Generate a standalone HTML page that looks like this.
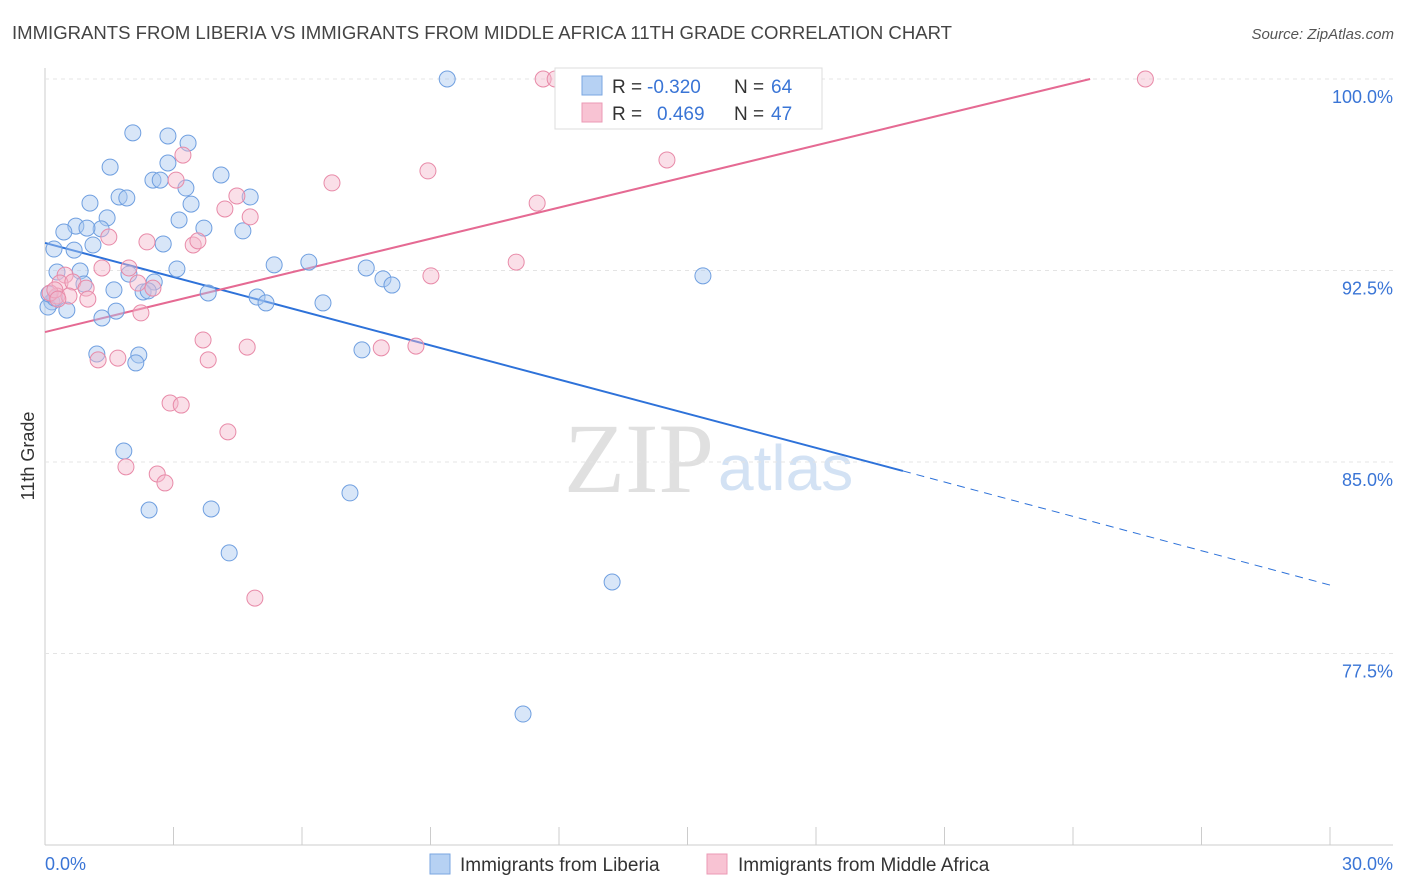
<!DOCTYPE html>
<html><head><meta charset="utf-8"><style>
body{margin:0;background:#fff;font-family:"Liberation Sans",sans-serif;}
svg{display:block}
</style></head><body>
<svg id="chart" width="1406" height="892">
<text x="12" y="39" font-size="18" fill="#444" textLength="940" lengthAdjust="spacingAndGlyphs">IMMIGRANTS FROM LIBERIA VS IMMIGRANTS FROM MIDDLE AFRICA 11TH GRADE CORRELATION CHART</text>
<text x="1394" y="39" font-size="15" fill="#555" font-style="italic" text-anchor="end">Source: ZipAtlas.com</text>
<text x="714" y="492" font-size="100" fill="#e0e0e0" font-family="Liberation Serif,serif" text-anchor="end">ZIP</text>
<text x="718" y="490" font-size="64" fill="#d3e2f4">atlas</text>
<text transform="translate(34,456) rotate(-90)" font-size="18" fill="#333" text-anchor="middle">11th Grade</text>
<g id="grid"></g><g id="lines"></g><g id="pts"></g>
<g>
<rect x="555" y="68" width="267" height="61" fill="#fff" stroke="#ddd"/>
<rect x="582" y="76" width="20" height="19" fill="#b6d1f3" stroke="#7aa6e0"/>
<rect x="582" y="103" width="20" height="19" fill="#f8c3d3" stroke="#eb9ab4"/>
<text x="612" y="93" font-size="19" fill="#333">R =</text>
<text x="647" y="93" font-size="19" fill="#3a75d6">-0.320</text>
<text x="734" y="93" font-size="19" fill="#333">N =</text>
<text x="771" y="93" font-size="19" fill="#3a75d6">64</text>
<text x="612" y="120" font-size="19" fill="#333">R =</text>
<text x="657" y="120" font-size="19" fill="#3a75d6">0.469</text>
<text x="734" y="120" font-size="19" fill="#333">N =</text>
<text x="771" y="120" font-size="19" fill="#3a75d6">47</text>
</g>
<g>
<rect x="430" y="854" width="20" height="20" fill="#b6d1f3" stroke="#7aa6e0"/>
<text x="460" y="871" font-size="19" fill="#333">Immigrants from Liberia</text>
<rect x="707" y="854" width="20" height="20" fill="#f8c3d3" stroke="#eb9ab4"/>
<text x="738" y="871" font-size="19" fill="#333">Immigrants from Middle Africa</text>
</g>
</svg>
<script>
const yTicks=[100,92.5,85,77.5];
const yTickLabels=["100.0%","92.5%","85.0%","77.5%"];
const xTickLabels=["0.0%","30.0%"];
const blueX=[9.39,2.05,2.87,3.34,1.52,2.87,2.52,2.69,3.29,4.11,1.05,1.73,1.91,3.41,4.79,1.45,3.13,0.72,0.44,1.31,0.98,3.71,4.62,0.21,0.68,1.12,2.76,3.08,0.82,0.28,5.35,6.16,7.50,7.89,8.10,15.36,1.96,2.55,0.91,1.61,2.29,2.41,3.81,4.95,5.16,6.49,0.16,0.07,0.51,1.66,1.33,1.21,2.19,2.12,7.40,1.84,7.12,2.43,3.88,4.30,13.24,11.16,0.23,0.09];
const blueY=[100,97.89,97.77,97.49,96.55,96.71,96.04,96.04,95.73,96.24,95.14,95.38,95.34,95.10,95.38,94.56,94.48,94.24,94.01,94.13,94.16,94.16,94.05,93.34,93.30,93.50,93.54,92.56,92.48,92.44,92.72,92.83,92.60,92.17,91.93,92.29,92.36,92.05,91.97,91.74,91.66,91.70,91.62,91.46,91.23,91.23,91.27,91.07,90.95,90.91,90.64,89.23,89.19,88.88,89.39,85.43,83.79,83.12,83.16,81.44,80.30,75.13,91.42,91.58];
const pinkX=[11.63,11.91,25.69,3.22,14.52,8.94,3.06,6.70,4.48,4.20,11.49,4.79,1.49,2.38,3.46,3.57,11.00,9.01,0.47,1.33,1.96,0.35,0.65,0.96,2.17,2.52,1.00,0.28,0.12,0.56,2.24,3.69,4.72,7.85,8.66,1.24,1.70,3.81,2.92,3.18,4.27,1.89,2.62,2.80,4.90,0.23,0.30];
const pinkY=[100,100,100,97.02,96.83,96.40,96.04,95.93,95.42,94.91,95.14,94.60,93.81,93.62,93.50,93.66,92.83,92.29,92.32,92.60,92.60,92.01,92.05,91.81,92.01,91.81,91.38,91.50,91.62,91.50,90.84,89.78,89.50,89.47,89.54,89.00,89.07,89.00,87.31,87.23,86.18,84.81,84.53,84.18,79.67,91.74,91.38];
const blueTrendX=[0,20.03,30];
const blueTrendY=[93.58,84.65,80.18];
const pinkTrendX=[0,24.40];
const pinkTrendY=[90.09,100];
const NS="http://www.w3.org/2000/svg";
const X=v=>45+v/30*1285;
const Y=v=>79+(100-v)/7.5*191.5;
function mk(parent,tag,attrs){const e=document.createElementNS(NS,tag);for(const k in attrs)e.setAttribute(k,attrs[k]);document.getElementById(parent).appendChild(e);return e;}
let a=mk('grid','line',{x1:45,y1:68,x2:45,y2:845,stroke:'#ccc'});


a=mk('grid','line',{x1:45,y1:845,x2:1393,y2:845,stroke:'#ccc'});


yTicks.forEach((t,i)=>{
 const g=mk('grid','line',{x1:45,x2:1393,y1:Y(t),y2:Y(t),stroke:'#e4e4e4','stroke-dasharray':'4,4'});
 
 
 const l=mk('grid','text',{x:1393,y:Y(t)+24,'font-size':18,fill:'#3a75d6','text-anchor':'end'});
 l.textContent=yTickLabels[i];
 
 
});
for(let i=0;i<=10;i++){
 const t=mk('grid','line',{x1:X(i*3),x2:X(i*3),y1:827,y2:845,stroke:'#ccc'});
 
 
}
[[0,'start',45],[30,'end',1393]].forEach((d,i)=>{
 const l=mk('grid','text',{x:d[2],y:870,'font-size':18,fill:'#3a75d6','text-anchor':d[1]});
 l.textContent=xTickLabels[i];
 
 
});
function pts(xs,ys,fill,stroke,name){
 xs.forEach((x,i)=>{
  const c=mk('pts','circle',{cx:X(x),cy:Y(ys[i]),r:8,fill:fill,'fill-opacity':0.45,stroke:stroke,'stroke-width':1});
  
  
 });
}
pts(blueX,blueY,'#a9c8f0','#6f9fe0','liberia-point');
pts(pinkX,pinkY,'#f5b8cc','#e88aa8','middle-africa-point');
let b=mk('lines','line',{x1:X(blueTrendX[0]),y1:Y(blueTrendY[0]),x2:X(blueTrendX[1]),y2:Y(blueTrendY[1]),stroke:'#2e72d9','stroke-width':2});


b=mk('lines','line',{x1:X(blueTrendX[1]),y1:Y(blueTrendY[1]),x2:X(blueTrendX[2]),y2:Y(blueTrendY[2]),stroke:'#2e72d9','stroke-width':1,'stroke-dasharray':'8,6'});


b=mk('lines','line',{x1:X(pinkTrendX[0]),y1:Y(pinkTrendY[0]),x2:X(pinkTrendX[1]),y2:Y(pinkTrendY[1]),stroke:'#e56a93','stroke-width':2});


</script>
</body></html>
